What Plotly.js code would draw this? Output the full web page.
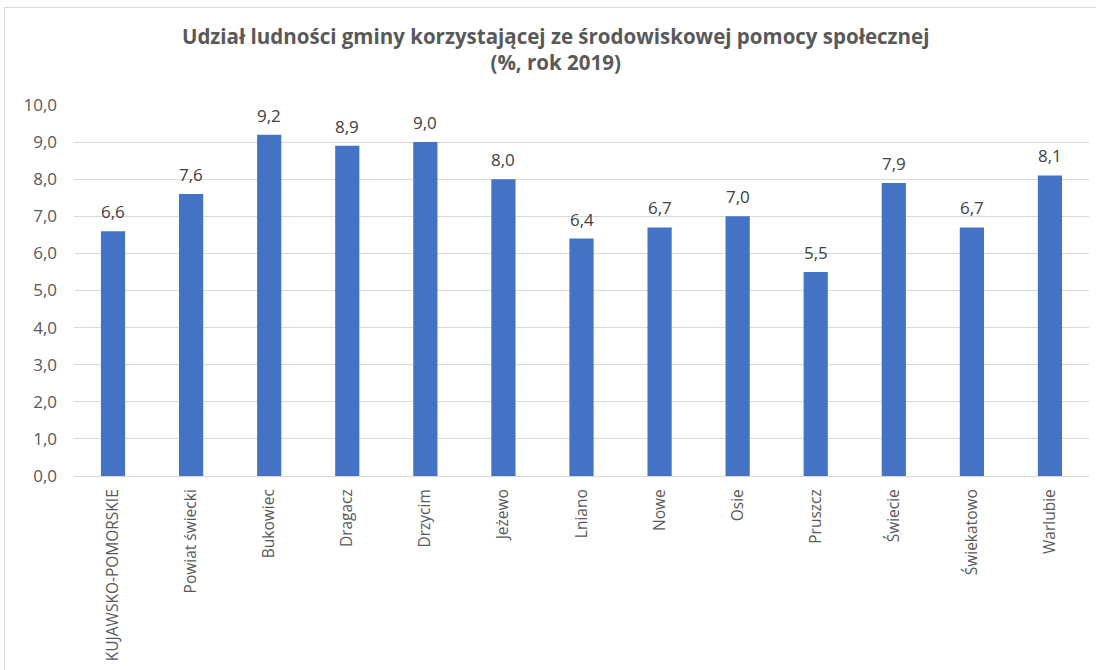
<!DOCTYPE html>
<html>
<head>
<meta charset="utf-8">
<script src="https://cdn.plot.ly/plotly-3.0.1.min.js"></script>
<style>
html, body { margin: 0; padding: 0; background: #fff; }
#wrap { position: relative; width: 1096px; height: 670px; }
#chart { position: absolute; left: 0; top: 0; width: 1096px; height: 670px; }
#frame { position: absolute; left: 4px; top: 7px; width: 1200px; height: 700px;
  border-left: 1px solid #d9d9d9; border-top: 1px solid #d9d9d9; pointer-events: none; }
</style>
</head>
<body>
<div id="wrap">
<div id="chart"></div>
<div id="frame"></div>
</div>
<script>
const categories = ["KUJAWSKO-POMORSKIE", "Powiat świecki", "Bukowiec", "Dragacz", "Drzycim", "Jeżewo", "Lniano", "Nowe", "Osie", "Pruszcz", "Świecie", "Świekatowo", "Warlubie"];
const values = [6.6, 7.6, 9.2, 8.9, 9.0, 8.0, 6.4, 6.7, 7.0, 5.5, 7.9, 6.7, 8.1];
const yTicks = [0, 1, 2, 3, 4, 5, 6, 7, 8, 9, 10];

const font = "Open Sans, DejaVu Sans, sans-serif";
const fmt = v => v.toFixed(1).replace(".", ",");

const labels = categories.map((c, i) => ({
  x: c, y: values[i], xref: "x", yref: "y",
  text: fmt(values[i]), showarrow: false,
  yanchor: "bottom", yshift: 6,
  font: { family: font, size: 17, color: "#404040" }
}));

Plotly.newPlot("chart", [{
  type: "bar",
  x: categories,
  y: values,
  marker: { color: "#4472C4" },
  width: 0.31,
  hoverinfo: "x+y"
}], {
  width: 1096,
  height: 670,
  margin: { l: 74, r: 7, t: 105, b: 194 },
  paper_bgcolor: "rgba(0,0,0,0)",
  plot_bgcolor: "#fff",
  showlegend: false,
  annotations: labels,
  title: {
    text: "<b>Udział ludności gminy korzystającej ze środowiskowej pomocy społecznej<br>(%, rok 2019)</b>",
    font: { family: font, size: 20.5, color: "#595959" },
    x: 0.507, xanchor: "center",
    y: 0.935, yanchor: "top"
  },
  xaxis: {
    type: "category",
    tickangle: -90,
    tickfont: { family: font, size: 15.5, color: "#595959" },
    showline: true, linecolor: "#d9d9d9", linewidth: 1,
    ticks: "", ticklen: 0,
    ticklabelstandoff: 6,
    showgrid: false,
    automargin: false
  },
  yaxis: {
    range: [0, 10],
    tickvals: yTicks,
    ticktext: yTicks.map(fmt),
    tickfont: { family: font, size: 17, color: "#595959" },
    gridcolor: "#d9d9d9", gridwidth: 1,
    zeroline: false,
    showline: false,
    ticks: "", ticklabelstandoff: 16,
    automargin: false
  }
}, { displayModeBar: false, staticPlot: true });
</script>
</body>
</html>
